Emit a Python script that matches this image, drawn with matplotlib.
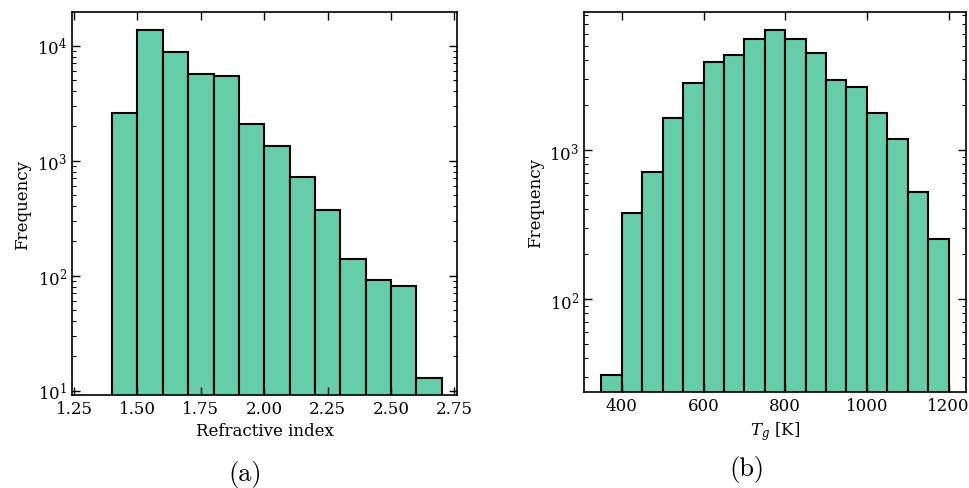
import matplotlib
matplotlib.use("Agg")
import matplotlib.pyplot as plt

plt.rcParams['font.family'] = 'DejaVu Serif'
plt.rcParams['mathtext.fontset'] = 'dejavuserif'
plt.rcParams['font.size'] = 12

# refractive index histogram (bin edges and counts)
ri_edges = [1.4, 1.5, 1.6, 1.7, 1.8, 1.9, 2.0, 2.1, 2.2, 2.3, 2.4, 2.5, 2.6, 2.7]
ri_counts = [2600, 13700, 8820, 5680, 5490, 2085, 1343, 726, 371, 141, 92, 81, 13]

# glass transition temperature histogram
tg_edges = [350, 400, 450, 500, 550, 600, 650, 700, 750, 800, 850,
            900, 950, 1000, 1050, 1100, 1150, 1200]
tg_counts = [31, 376, 708, 1640, 2830, 3920, 4320, 5530, 6410, 5530,
             4480, 2950, 2650, 1770, 1186, 525, 253]

bar_color = '#66cdaa'

fig = plt.figure(figsize=(9.69, 4.89), dpi=100)
ax1 = fig.add_axes([0.0743, 0.1902, 0.3973, 0.7822])
ax2 = fig.add_axes([0.6027, 0.1963, 0.3942, 0.7761])

ax1.hist(ri_edges[:-1], bins=ri_edges, weights=ri_counts, log=True,
         color=bar_color, edgecolor='black', linewidth=1.5)
ax1.set_xlim(1.242, 2.76)
ax1.set_xticks([1.25, 1.5, 1.75, 2.0, 2.25, 2.5, 2.75])
ax1.set_xlabel('Refractive index')
ax1.set_ylabel('Frequency')

ax2.hist(tg_edges[:-1], bins=tg_edges, weights=tg_counts, log=True,
         color=bar_color, edgecolor='black', linewidth=1.5)
ax2.set_xticks([400, 600, 800, 1000, 1200])
ax2.set_xlabel(r'$T_g$ [K]')
ax2.set_ylabel('Frequency')

for ax in (ax1, ax2):
    ax.tick_params(which='both', direction='in', top=True, right=True)
    ax.tick_params(which='major', length=5.5, width=1)
    ax.tick_params(which='minor', length=3, width=0.8)
    for s in ax.spines.values():
        s.set_linewidth(1.2)

fig.text(0.253, 0.016, '(a)', family='cmr10', fontsize=19, ha='center')
fig.text(0.771, 0.026, '(b)', family='cmr10', fontsize=19, ha='center')

fig.savefig('out.png', dpi=100)
